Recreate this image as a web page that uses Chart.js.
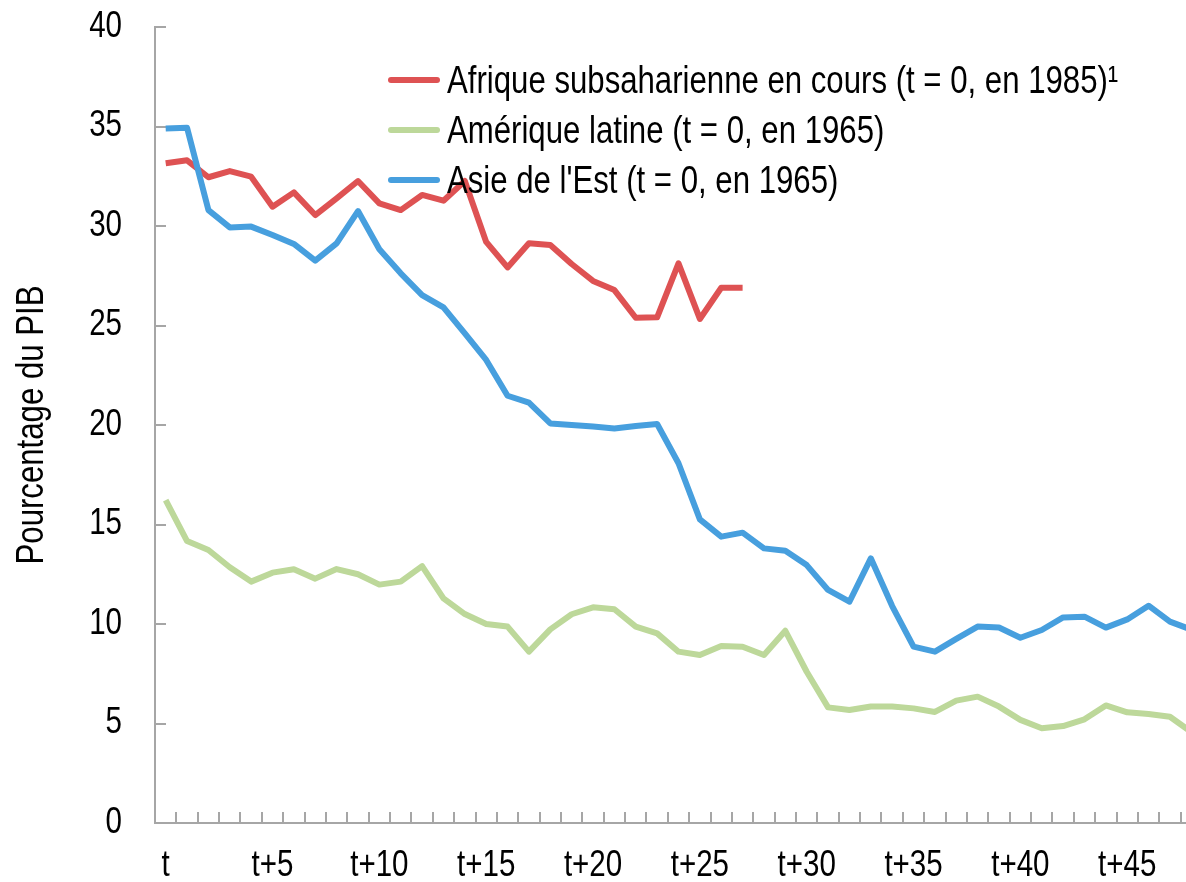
<!DOCTYPE html>
<html>
<head>
<meta charset="utf-8">
<script src="https://cdn.jsdelivr.net/npm/chart.js@4/dist/chart.umd.min.js"></script>
<style>
  html, body { margin: 0; padding: 0; background: #fff; overflow: hidden; width: 1186px; height: 882px; }
  #wrap { position: relative; width: 1186px; height: 882px; overflow: hidden; }
  canvas { position: absolute; left: 0; top: 0; }
  .sw { position: absolute; left: 388px; width: 52px; height: 6px; border-radius: 3px; }
  .lt { position: absolute; left: 447px; height: 50px; line-height: 50px; white-space: nowrap;
        font-family: "Liberation Sans", Arial, sans-serif; font-size: 38px; color: #000;
        transform: scaleX(0.82); transform-origin: 0 50%; }
</style>
</head>
<body>
<div id="wrap">
  <canvas id="c" width="1210" height="882"></canvas>
  <div id="legend"></div>
</div>
<script>
// ---- data ----
const categories = [];
for (let i = 0; i <= 48; i++) categories.push(i === 0 ? 't' : 't+' + i);

const seriesNames = [
  "Afrique subsaharienne en cours (t = 0, en 1985)\u00B9",
  "Am\u00E9rique latine (t = 0, en 1965)",
  "Asie de l'Est (t = 0, en 1965)"
];

const afrique = [33.15,33.3,32.45,32.76,32.48,30.97,31.69,30.55,31.39,32.26,31.14,30.8,31.56,31.27,32.26,29.2,27.92,29.13,29.05,28.09,27.24,26.78,25.39,25.41,28.12,25.33,26.9,26.9];

const ameriqueLatine = [16.23,14.17,13.72,12.85,12.13,12.58,12.75,12.28,12.76,12.5,11.98,12.13,12.91,11.29,10.5,10.0,9.87,8.61,9.73,10.49,10.84,10.74,9.87,9.53,8.61,8.44,8.89,8.86,8.44,9.66,7.6,5.81,5.68,5.85,5.85,5.76,5.58,6.15,6.35,5.85,5.18,4.76,4.87,5.21,5.91,5.56,5.48,5.34,4.57];

const asieEst = [34.9,34.94,30.8,29.93,29.97,29.55,29.1,28.26,29.13,30.75,28.83,27.62,26.53,25.91,24.6,23.27,21.47,21.12,20.08,20.0,19.92,19.82,19.95,20.05,18.08,15.26,14.39,14.59,13.8,13.68,12.96,11.71,11.12,13.3,10.9,8.86,8.61,9.25,9.87,9.82,9.31,9.7,10.33,10.37,9.82,10.23,10.92,10.12,9.72];

const yTicks = [0, 5, 10, 15, 20, 25, 30, 35, 40];
const yTitle = 'Pourcentage du PIB';
const colors = ['#DE5253', '#BDD89A', '#479FDE'];
const axisColor = '#A6A6A6';
const baseFont = '"Liberation Sans", Arial, sans-serif';
const narrow = 0.82;

// ---- legend (HTML) ----
const legendEl = document.getElementById('legend');
const legendCenters = [80, 130, 180];
seriesNames.forEach((n, i) => {
  const s = document.createElement('div');
  s.className = 'sw';
  s.style.top = (legendCenters[i] - 3) + 'px';
  s.style.background = colors[i];
  legendEl.appendChild(s);
  const t = document.createElement('div');
  t.className = 'lt';
  t.style.top = (legendCenters[i] - 25) + 'px';
  t.textContent = n;
  legendEl.appendChild(t);
});

// ---- inward tick marks + condensed labels ----
const axisDecor = {
  id: 'axisDecor',
  beforeDatasetsDraw(chart) {
    const ctx = chart.ctx;
    const x = chart.scales.x, y = chart.scales.y;
    const area = chart.chartArea;
    ctx.save();
    ctx.strokeStyle = axisColor;
    ctx.lineWidth = 2;
    ctx.beginPath();
    yTicks.forEach(v => {
      const py = Math.round(y.getPixelForValue(v));
      ctx.moveTo(area.left, py);
      ctx.lineTo(area.left + 11, py);
    });
    const n = categories.length;
    const w = (area.right - area.left) / n;
    for (let k = 1; k <= n; k++) {
      const px = Math.round(area.left + k * w);
      ctx.moveTo(px, area.bottom);
      ctx.lineTo(px, area.bottom - 11);
    }
    ctx.stroke();
    ctx.restore();
  },
  afterDraw(chart) {
    const ctx = chart.ctx;
    const x = chart.scales.x, y = chart.scales.y;
    ctx.save();
    ctx.fillStyle = '#000';
    ctx.font = '36px ' + baseFont;
    ctx.textBaseline = 'middle';
    // y tick labels
    ctx.textAlign = 'right';
    yTicks.forEach(v => {
      const py = y.getPixelForValue(v);
      ctx.save();
      ctx.translate(122, py);
      ctx.scale(narrow, 1);
      ctx.fillText(String(v), 0, 0);
      ctx.restore();
    });
    // x tick labels
    ctx.textAlign = 'center';
    categories.forEach((c, i) => {
      if (i % 5 !== 0) return;
      const px = x.getPixelForValue(i);
      ctx.save();
      ctx.translate(px, 866);
      ctx.scale(narrow, 1);
      ctx.fillText(c, 0, 0);
      ctx.restore();
    });
    // y title
    ctx.font = '38px ' + baseFont;
    ctx.save();
    ctx.translate(33, (chart.chartArea.top + chart.chartArea.bottom) / 2);
    ctx.rotate(-Math.PI / 2);
    ctx.scale(narrow, 1);
    ctx.textAlign = 'center';
    ctx.fillText(yTitle, 0, 0);
    ctx.restore();
    ctx.restore();
  }
};

const mk = (label, data, color, order) => ({
  label, data, borderColor: color, backgroundColor: color,
  borderWidth: 6, pointRadius: 0, pointHoverRadius: 0, tension: 0,
  fill: false, order, borderJoinStyle: 'round', borderCapStyle: 'butt'
});

new Chart(document.getElementById('c'), {
  type: 'line',
  data: {
    labels: categories,
    datasets: [
      mk(seriesNames[0], afrique, colors[0], 3),
      mk(seriesNames[1], ameriqueLatine, colors[1], 2),
      mk(seriesNames[2], asieEst, colors[2], 1)
    ]
  },
  options: {
    responsive: false,
    animation: false,
    devicePixelRatio: 1,
    layout: { padding: { left: 0, right: 8, top: 27, bottom: 0 } },
    plugins: { legend: { display: false }, tooltip: { enabled: false } },
    scales: {
      x: {
        type: 'category',
        offset: true,
        grid: { display: false, drawTicks: false },
        border: { display: true, color: axisColor, width: 2 },
        ticks: { display: false, autoSkip: false },
        afterFit(scale) { scale.height = 59; scale.paddingLeft = 0; scale.paddingRight = 0; }
      },
      y: {
        min: 0, max: 40,
        grid: { display: false, drawTicks: false },
        border: { display: true, color: axisColor, width: 2 },
        afterBuildTicks(scale) { scale.ticks = yTicks.map(v => ({ value: v })); },
        ticks: { display: false },
        afterFit(scale) { scale.width = 155; scale.paddingTop = 0; scale.paddingBottom = 0; }
      }
    }
  },
  plugins: [axisDecor]
});
</script>
</body>
</html>
